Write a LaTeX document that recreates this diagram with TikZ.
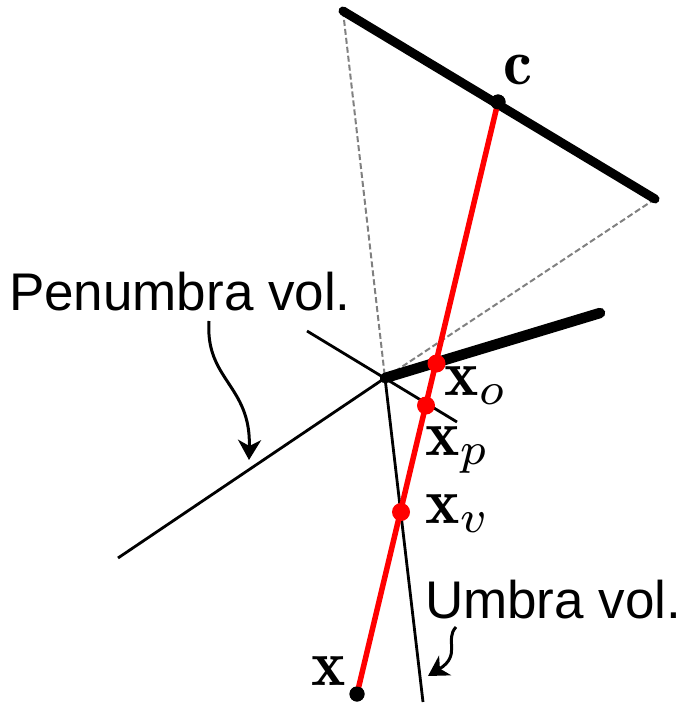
\documentclass[tikz,border=0pt]{standalone}
\usepackage{fontspec}
\newfontfamily\arialfont{Liberation Sans}
\usetikzlibrary{arrows.meta}
\begin{document}
\begin{tikzpicture}[x=1pt,y=-1pt,
  thinline/.style={line width=2.8pt, black},
  dashline/.style={line width=2pt, gray, dash pattern=on 6pt off 3pt},
  thickbar/.style={line width=9pt, black, line cap=round},
  occbar/.style={line width=10.5pt, black, line cap=round},
  rayline/.style={line width=5.5pt, red},
  reddot/.style={circle, fill=red, inner sep=0pt, minimum size=18pt},
  blackdot/.style={circle, fill=black, inner sep=0pt, minimum size=15pt},
  mathlbl/.style={inner sep=0pt, anchor=base west, font=\fontsize{10}{12}\selectfont, scale=6.5},
  textlbl/.style={inner sep=0pt, anchor=base west, font=\arialfont\fontsize{10}{12}\selectfont, scale=5.3},
  curvarrow/.style={line width=3pt, -{Stealth[length=20pt,width=23pt,inset=6pt]}}
]
\useasboundingbox (0,0) rectangle (687,703);
% key points
\coordinate (L1) at (343,11);
\coordinate (L2) at (655,199);
\coordinate (corner) at (385,378);
\coordinate (occend) at (600,313);
\coordinate (pA) at (307,331);
\coordinate (pB) at (457,422);
\coordinate (pC) at (118,558);
\coordinate (uB) at (423,702);
% dashed lines
\draw[dashline] (L1) -- (corner);
\draw[dashline] (L2) -- (corner);
% thin black lines
\draw[thinline] (pA) -- (pB);
\draw[thinline] (corner) -- (pC);
\draw[thinline] (corner) -- (uB);
% light and occluder
\draw[thickbar] (L1) -- (L2);
\draw[occbar] (corner) -- (occend);
% ray
\node[blackdot] (c) at (498,102) {};
\node[blackdot] (x) at (357,694) {};
\draw[rayline] (c.center) -- (x.center);
\node[reddot] (xo) at (436.5,363.5) {};
\node[reddot] (xp) at (426,405.5) {};
\node[reddot] (xv) at (401,512) {};
\node[blackdot] at (c) {};
\node[blackdot] at (x) {};
\node[circle, fill=black, inner sep=0pt, minimum size=8pt] (cornerdot) at (corner) {};
% labels
\node[mathlbl] (lc) at (502,85) {$\mathbf{c}$};
\node[mathlbl] (lxo) at (443,395) {$\mathbf{x}_o$};
\node[mathlbl] (lxp) at (424,455) {$\mathbf{x}_p$};
\node[mathlbl] (lxv) at (424,523) {$\mathbf{x}_v$};
\node[mathlbl] (lx) at (310,685) {$\mathbf{x}$};
\node[textlbl] (pen) at (8,310) {Penumbra vol.};
\node[textlbl] (umb) at (424,618) {Umbra vol.};
% curved arrows
\coordinate (pa0) at (209,321);
\coordinate (pa1) at (249,460);
\draw[curvarrow] (pa0) .. controls (205,380) and (251,385) .. (pa1);
\coordinate (ua0) at (456,627);
\coordinate (ua1) at (428,676);
\draw[curvarrow] (ua0) .. controls (444,640) and (462,655) .. (ua1);
\end{tikzpicture}
\end{document}
